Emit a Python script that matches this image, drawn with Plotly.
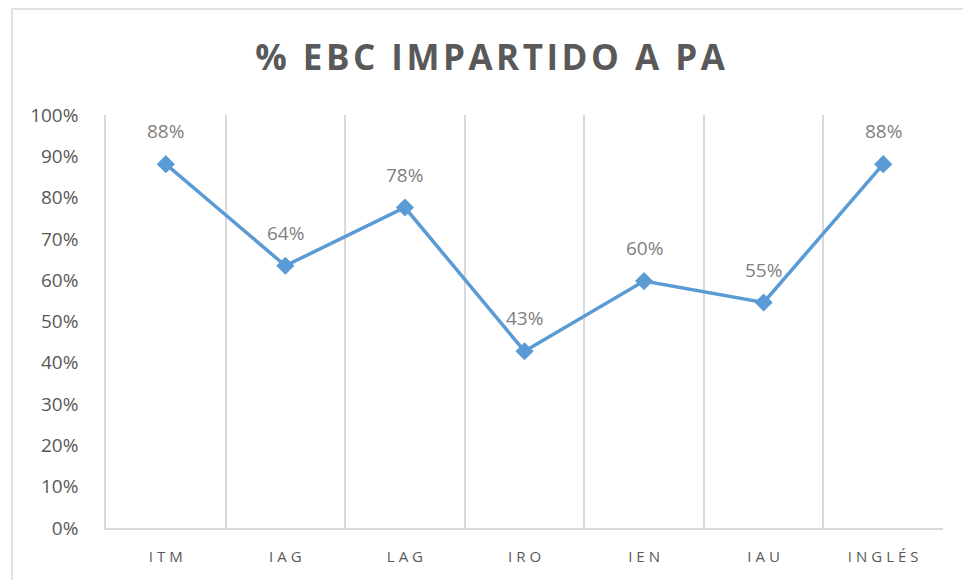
import plotly.graph_objects as go

categories = ["ITM", "IAG", "LAG", "IRO", "IEN", "IAU", "INGLÉS"]
values = [0.881, 0.635, 0.776, 0.428, 0.598, 0.546, 0.881]
y_ticks = [i / 10 for i in range(11)]
title_text = "% EBC IMPARTIDO A PA"

def spaced(s, sep="\u2009"):
    return sep.join(list(s))

OFF = 8  # page body margin
fig = go.Figure()
fig.add_trace(go.Scatter(
    x=categories, y=values, mode="lines+markers",
    line=dict(color="#5B9BD5", width=3.5),
    marker=dict(symbol="diamond", size=14, color="#5B9BD5"),
    hoverinfo="skip", showlegend=False,
))

for c, v in zip(categories, values):
    fig.add_annotation(x=c, y=v, text=f"{round(v*100)}%", showarrow=False,
                       yshift=33, font=dict(size=19, color="#7F7F7F", family="Open Sans"))

W, H = 971 - OFF, 580 - OFF
L, R, T, B = 106 - OFF, 28, 115 - OFF, 52
pw, ph = W - L - R, H - T - B
fig.add_shape(type="rect", xref="paper", yref="paper",
              x0=(12 - OFF - L) / pw, x1=(1000 - L) / pw,
              y0=(H - B - 600) / ph, y1=(H - B - (9 - OFF)) / ph,
              line=dict(color="#D9D9D9", width=1.5), fillcolor="rgba(0,0,0,0)", layer="below")

fig.update_layout(
    width=W, height=H,
    margin=dict(l=L, r=R, t=T, b=B),
    paper_bgcolor="white", plot_bgcolor="white",
    title=dict(text="<b>" + spaced(title_text, "\u200a") + "</b>", x=(490 - OFF) / W, xref="container",
               xanchor="center",
               y=1 - (58 - OFF) / H, yanchor="middle",
               font=dict(size=35, color="#595959", family="Open Sans")),
    font=dict(family="Open Sans", color="#595959"),
    xaxis=dict(
        type="category", range=[-0.5, 6.5], tickson="boundaries",
        tickmode="array", tickvals=categories, ticktext=[spaced(c, "\u2009\u200a") for c in categories],
        showgrid=True, gridcolor="#D9D9D9", gridwidth=1.5,
        showline=True, linecolor="#D9D9D9", linewidth=1.5,
        ticks="", tickfont=dict(size=15, color="#595959"),
        ticklabelstandoff=14, zeroline=False, fixedrange=True,
    ),
    yaxis=dict(
        range=[0, 1], tickmode="array", tickvals=y_ticks, tickformat=".0%",
        showgrid=False, zeroline=False, showline=True, linecolor="#D9D9D9", linewidth=1.5,
        tickfont=dict(size=19, color="#595959"),
        ticklabelstandoff=22, fixedrange=True,
    ),
)

fig.write_html("out.html")
